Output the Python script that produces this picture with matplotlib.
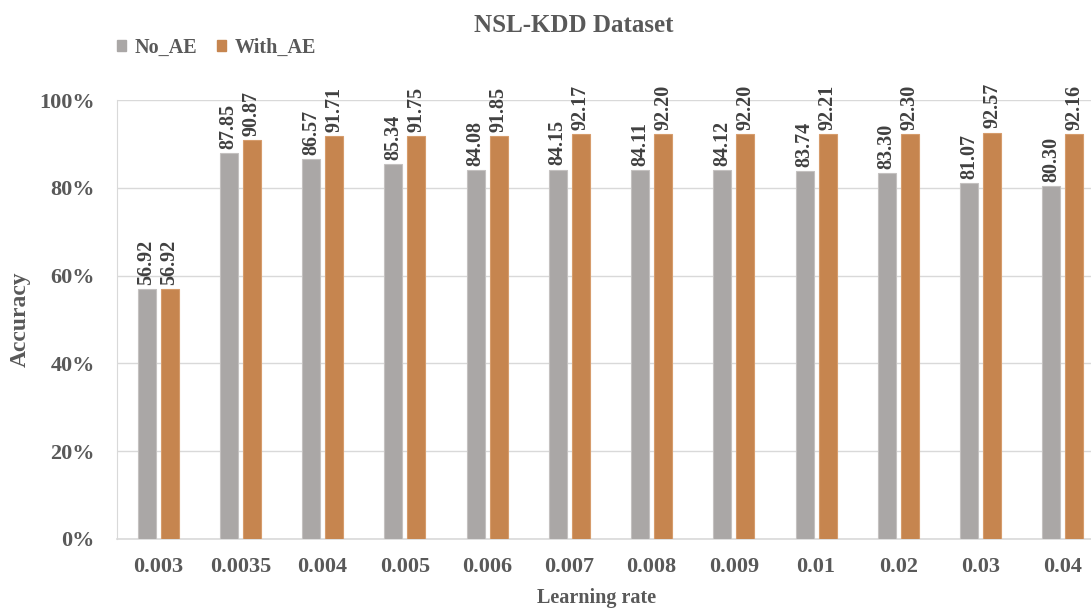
import numpy as np
import matplotlib.pyplot as plt
from matplotlib.patches import Patch
from matplotlib.ticker import PercentFormatter

plt.rcParams['font.family'] = ['Liberation Serif', 'DejaVu Serif']
plt.rcParams['font.weight'] = 'bold'

# data
learning_rates = ['0.003', '0.0035', '0.004', '0.005', '0.006', '0.007',
                  '0.008', '0.009', '0.01', '0.02', '0.03', '0.04']
no_ae = [56.92, 87.85, 86.57, 85.34, 84.08, 84.15, 84.11, 84.12, 83.74, 83.30, 81.07, 80.30]
with_ae = [56.92, 90.87, 91.71, 91.75, 91.85, 92.17, 92.20, 92.20, 92.21, 92.30, 92.57, 92.16]

gray = '#aaa7a6'
orange = '#c6854f'
text_col = '#595959'

fig = plt.figure(figsize=(10.91, 6.08), dpi=100)
ax = fig.add_axes([0.1072, 0.1135, 0.9047, 0.722])

x = np.arange(len(learning_rates))
w = 0.22
off = 0.14
b1 = ax.bar(x - off, no_ae, w, color=gray, edgecolor='#c4c1c0', linewidth=0.8, zorder=3)
b2 = ax.bar(x + off, with_ae, w, color=orange, edgecolor='#d69c6c', linewidth=0.8, zorder=3)

for bars, vals in [(b1, no_ae), (b2, with_ae)]:
    for rect, v in zip(bars, vals):
        ax.annotate(f'{v:.2f}', (rect.get_x() + rect.get_width() / 2, v),
                    xytext=(0, 3), textcoords='offset points',
                    rotation=90, ha='center', va='bottom',
                    fontsize=14.5, fontweight='bold', color='#404040',
                    annotation_clip=False)

ax.set_xlim(-0.5, len(learning_rates) - 0.5)
ax.set_ylim(0, 100)
ax.set_yticks(np.arange(0, 101, 20))
ax.yaxis.set_major_formatter(PercentFormatter(decimals=0))
ax.set_xticks(x)
ax.set_xticklabels(learning_rates)
ax.tick_params(axis='both', length=0, labelsize=16, labelcolor=text_col)
ax.tick_params(axis='x', pad=13)
ax.tick_params(axis='y', pad=16)

ax.grid(axis='y', color='#d9d9d9', linewidth=1, zorder=0)
for s in ['top', 'right']:
    ax.spines[s].set_visible(False)
ax.spines['left'].set_color('#d9d9d9')
ax.spines['bottom'].set_color('#d9d9d9')
ax.spines['bottom'].set_linewidth(1.2)

ax.set_xlabel('Learning rate', fontsize=14.5, color=text_col, fontweight='bold')
ax.xaxis.set_label_coords(0.486, -0.112)
ax.set_ylabel('Accuracy', fontsize=17, color=text_col, fontweight='bold')
ax.yaxis.set_label_coords(-0.087, 0.5)

fig.text(0.526, 0.958, 'NSL-KDD Dataset', ha='center', va='center',
         fontsize=18, fontweight='bold', color=text_col)

handles = [Patch(color=gray, label='No_AE'), Patch(color=orange, label='With_AE')]
fig.legend(handles=handles, loc='center left', bbox_to_anchor=(0.091, 0.922),
           ncol=2, frameon=False, handlelength=0.45, handleheight=0.45,
           handletextpad=0.4, columnspacing=1.0,
           prop={'size': 14.5, 'weight': 'bold'}, labelcolor=text_col)

fig.savefig('out.png', dpi=100)
